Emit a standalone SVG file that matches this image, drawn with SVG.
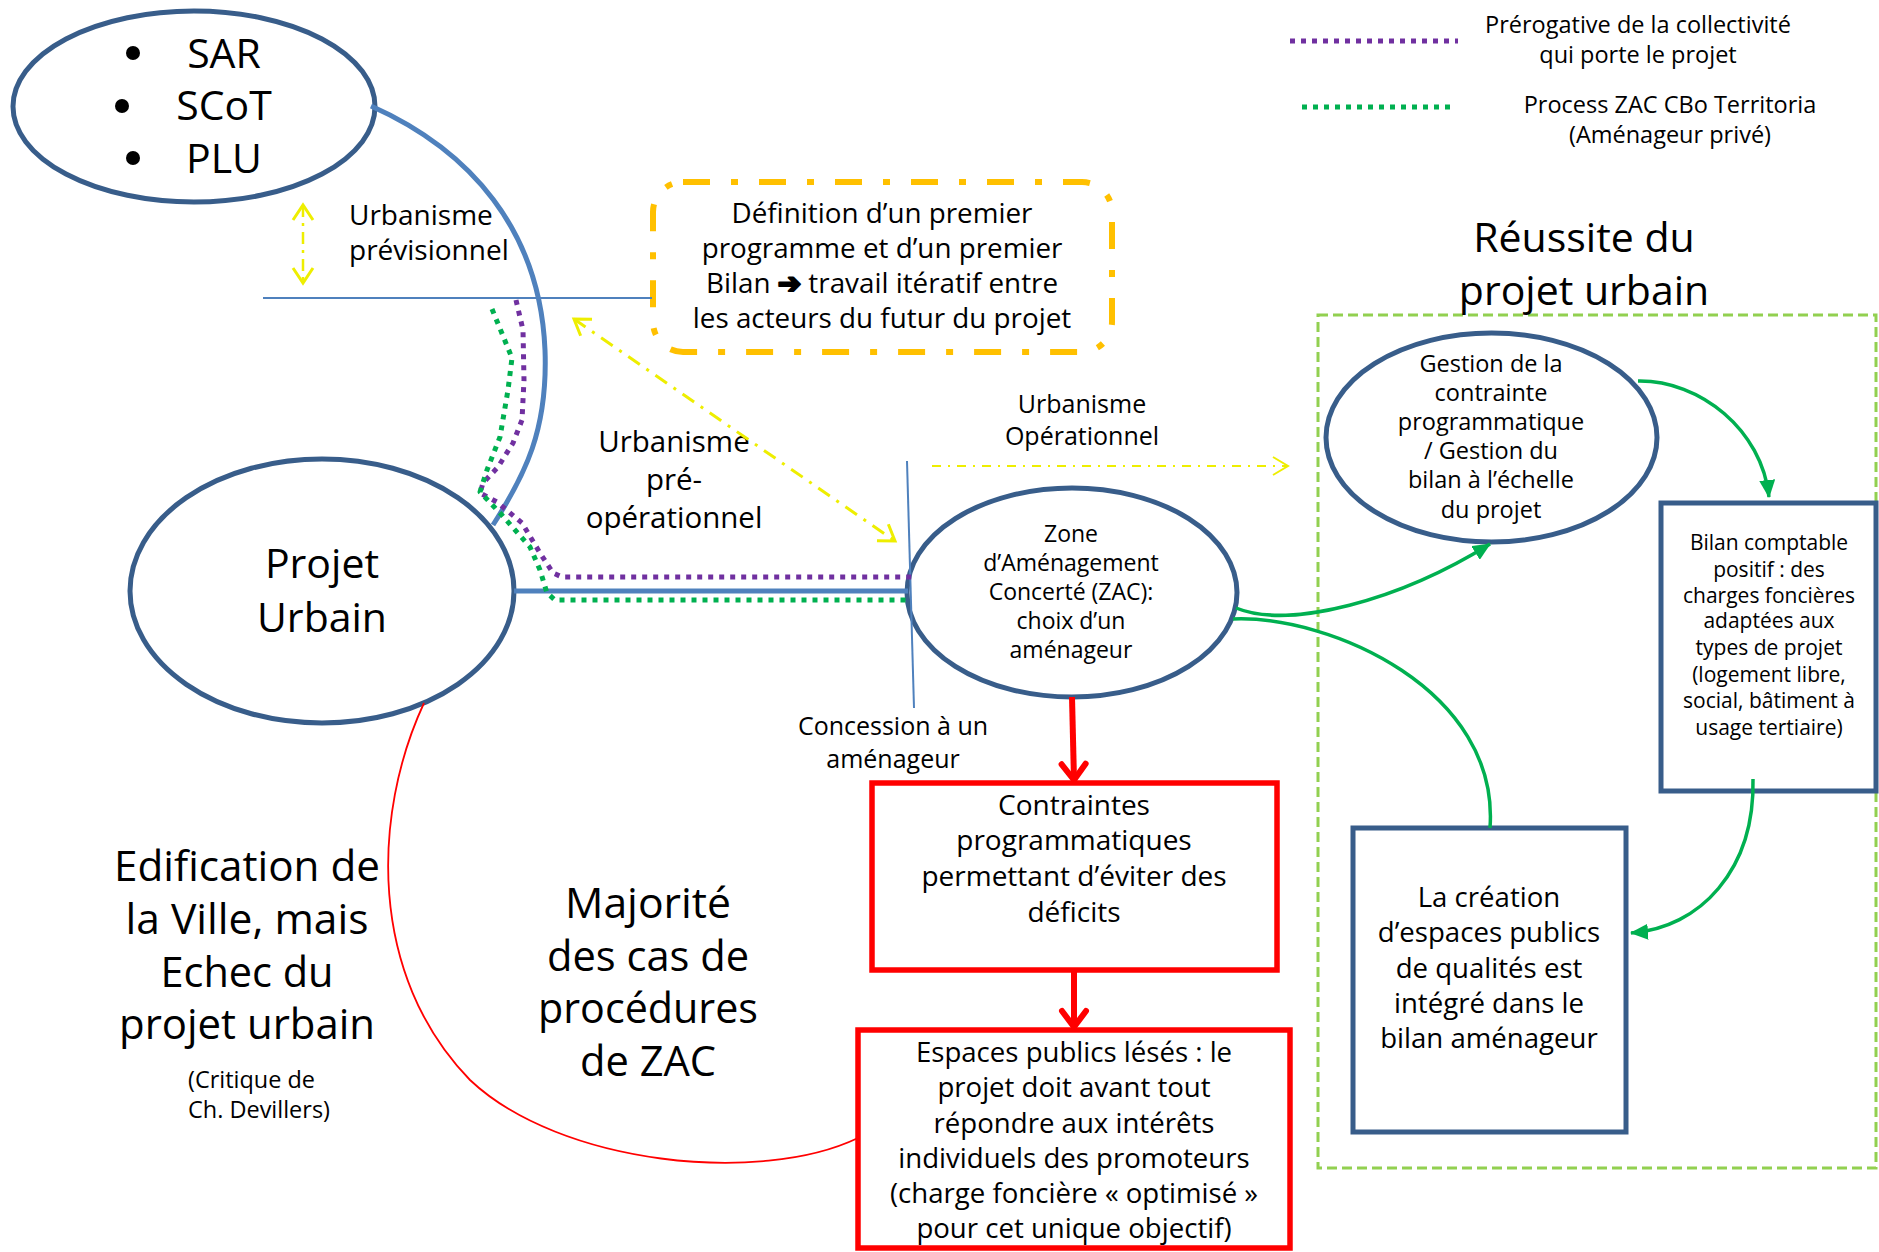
<svg xmlns="http://www.w3.org/2000/svg" width="1879" height="1252" viewBox="0 0 1879 1252">
<style>
.t{font-family:"Open Sans","Liberation Sans",sans-serif;fill:#000}
.c{text-anchor:middle}
.node{fill:#fff;stroke:#385D8A;stroke-width:5}
.redbox{fill:#fff;stroke:#FF0000;stroke-width:5.5}
.blue{fill:none;stroke:#4F81BD}
.dotP{fill:none;stroke:#7030A0;stroke-width:5;stroke-dasharray:5 6;stroke-linejoin:round}
.dotG{fill:none;stroke:#00B050;stroke-width:5;stroke-dasharray:5 6;stroke-linejoin:round}
.yel{fill:none;stroke:#EEEE00}
.gr{fill:none;stroke:#00B050;stroke-width:3.5}
.redA{fill:none;stroke:#FF0000;stroke-width:6}
.arw{font-family:"DejaVu Sans",sans-serif;font-weight:bold;stroke:#000;stroke-width:2.2;stroke-linejoin:round}
</style>
<defs>
<marker id="ah-green" markerUnits="userSpaceOnUse" viewBox="0 0 18 16" markerWidth="18" markerHeight="16" refX="17" refY="8" orient="auto"><path d="M0,0 L18,8 L0,16 z" fill="#00B050"/></marker>
<marker id="ah-red" markerUnits="userSpaceOnUse" viewBox="-4 -16 28 32" markerWidth="28" markerHeight="32" refX="18" refY="0" orient="auto"><path d="M2,-12 L18,0 L2,12" fill="none" stroke="#FF0000" stroke-width="6" stroke-linecap="round" stroke-linejoin="round"/></marker>
<marker id="ah-yel" markerUnits="userSpaceOnUse" viewBox="-2 -12 20 24" markerWidth="20" markerHeight="24" refX="15" refY="0" orient="auto-start-reverse"><path d="M0,-10 L15,0 L0,10" fill="none" stroke="#EEEE00" stroke-width="3"/></marker>
<marker id="ah-yel-s" markerUnits="userSpaceOnUse" viewBox="-2 -12 20 24" markerWidth="20" markerHeight="24" refX="15" refY="0" orient="auto-start-reverse"><path d="M0,-9 L15,0 L0,9" fill="none" stroke="#EEEE00" stroke-width="2"/></marker>
</defs>

<g id="legend">
<path d="M1290,41 H1458" class="dotP"/>
<path d="M1302,107 H1453" class="dotG"/>
<text class="t c" font-size="23.5"><tspan x="1638" y="33">Prérogative de la collectivité</tspan><tspan x="1638" y="63">qui porte le projet</tspan></text>
<text class="t c" font-size="23.5"><tspan x="1670" y="113">Process ZAC CBo Territoria</tspan><tspan x="1670" y="143">(Aménageur privé)</tspan></text>
</g>

<g id="zone-reussite">
<rect x="1318" y="315" width="558" height="853" fill="none" stroke="#92D050" stroke-width="3" stroke-dasharray="10 5"/>
<text class="t c" font-size="41"><tspan x="1584" y="252">Réussite du</tspan><tspan x="1584" y="305">projet urbain</tspan></text>
</g>

<g id="node-sar">
<ellipse cx="194" cy="106.5" rx="181" ry="95.5" class="node"/>
<circle cx="133" cy="53" r="7"/>
<circle cx="122" cy="106" r="7"/>
<circle cx="133" cy="158" r="7"/>
<text class="t c" font-size="41"><tspan x="224" y="68">SAR</tspan><tspan x="224" y="120">SCoT</tspan><tspan x="224" y="173">PLU</tspan></text>
</g>

<g id="node-projet">
<ellipse cx="322" cy="591" rx="192" ry="132" class="node"/>
<text class="t c" font-size="41"><tspan x="322" y="578">Projet</tspan><tspan x="322" y="632">Urbain</tspan></text>
</g>

<g id="node-definition">
<rect x="653" y="182" width="459" height="170" rx="30" fill="#fff" stroke="#FFC000" stroke-width="6" stroke-dasharray="27 21 7 21"/>
<text class="t c" font-size="27.8"><tspan x="882" y="223">Définition d’un premier</tspan><tspan x="882" y="258">programme et d’un premier</tspan><tspan x="882" y="293">Bilan <tspan class="arw" font-size="28">➔</tspan> travail itératif entre</tspan><tspan x="882" y="328">les acteurs du futur du projet</tspan></text>
</g>

<g id="node-zac">
<ellipse cx="1072" cy="592.5" rx="165" ry="104.5" class="node"/>
<text class="t c" font-size="23"><tspan x="1071" y="542">Zone</tspan><tspan x="1071" y="571">d’Aménagement</tspan><tspan x="1071" y="600">Concerté (ZAC):</tspan><tspan x="1071" y="629">choix d’un</tspan><tspan x="1071" y="658">aménageur</tspan></text>
</g>

<g id="node-contraintes">
<rect x="872" y="783" width="405" height="187" class="redbox"/>
<text class="t c" font-size="28"><tspan x="1074" y="815">Contraintes</tspan><tspan x="1074" y="850">programmatiques</tspan><tspan x="1074" y="886">permettant d’éviter des</tspan><tspan x="1074" y="922">déficits</tspan></text>
</g>

<g id="node-espaces">
<rect x="858" y="1030" width="432" height="218" class="redbox"/>
<text class="t c" font-size="27.6"><tspan x="1074" y="1062">Espaces publics lésés : le</tspan><tspan x="1074" y="1097">projet doit avant tout</tspan><tspan x="1074" y="1133">répondre aux intérêts</tspan><tspan x="1074" y="1168">individuels des promoteurs</tspan><tspan x="1074" y="1203">(charge foncière « optimisé »</tspan><tspan x="1074" y="1238">pour cet unique objectif)</tspan></text>
</g>

<g id="node-gestion">
<ellipse cx="1491.5" cy="437.5" rx="165.5" ry="104.5" class="node"/>
<text class="t c" font-size="23.5"><tspan x="1491" y="372">Gestion de la</tspan><tspan x="1491" y="401">contrainte</tspan><tspan x="1491" y="430">programmatique</tspan><tspan x="1491" y="459">/ Gestion du</tspan><tspan x="1491" y="488">bilan à l’échelle</tspan><tspan x="1491" y="518">du projet</tspan></text>
</g>

<g id="node-bilan">
<rect x="1661" y="503" width="215" height="288" class="node"/>
<text class="t c" font-size="21"><tspan x="1769" y="550">Bilan comptable</tspan><tspan x="1769" y="577">positif : des</tspan><tspan x="1769" y="603">charges foncières</tspan><tspan x="1769" y="628">adaptées aux</tspan><tspan x="1769" y="655">types de projet</tspan><tspan x="1769" y="682">(logement libre,</tspan><tspan x="1769" y="708">social, bâtiment à</tspan><tspan x="1769" y="735">usage tertiaire)</tspan></text>
</g>

<g id="node-creation">
<rect x="1353" y="828" width="273" height="304" class="node"/>
<text class="t c" font-size="27.6"><tspan x="1489" y="907">La création</tspan><tspan x="1489" y="942">d’espaces publics</tspan><tspan x="1489" y="978">de qualités est</tspan><tspan x="1489" y="1013">intégré dans le</tspan><tspan x="1489" y="1048">bilan aménageur</tspan></text>
</g>

<g id="labels">
<text class="t" font-size="28"><tspan x="349" y="225">Urbanisme</tspan><tspan x="349" y="260">prévisionnel</tspan></text>
<text class="t c" font-size="29.5"><tspan x="674" y="452">Urbanisme</tspan><tspan x="674" y="490">pré-</tspan><tspan x="674" y="528">opérationnel</tspan></text>
<text class="t c" font-size="25"><tspan x="1082" y="413">Urbanisme</tspan><tspan x="1082" y="445">Opérationnel</tspan></text>
<text class="t c" font-size="25"><tspan x="893" y="735">Concession à un</tspan><tspan x="893" y="768">aménageur</tspan></text>
<text class="t c" font-size="42" x="247" y="881" textLength="266" lengthAdjust="spacingAndGlyphs">Edification de</text>
<text class="t c" font-size="42" x="247" y="934" textLength="243" lengthAdjust="spacingAndGlyphs">la Ville, mais</text>
<text class="t c" font-size="42" x="247" y="987" textLength="173" lengthAdjust="spacingAndGlyphs">Echec du</text>
<text class="t c" font-size="42" x="247" y="1039" textLength="256" lengthAdjust="spacingAndGlyphs">projet urbain</text>
<text class="t" font-size="23" x="188" y="1088" textLength="127" lengthAdjust="spacingAndGlyphs">(Critique de</text>
<text class="t" font-size="23" x="188" y="1118" textLength="142" lengthAdjust="spacingAndGlyphs">Ch. Devillers)</text>
<text class="t c" font-size="42" x="648" y="918" textLength="166" lengthAdjust="spacingAndGlyphs">Majorité</text>
<text class="t c" font-size="42" x="648" y="971" textLength="202" lengthAdjust="spacingAndGlyphs">des cas de</text>
<text class="t c" font-size="42" x="648" y="1023" textLength="220" lengthAdjust="spacingAndGlyphs">procédures</text>
<text class="t c" font-size="42" x="648" y="1076" textLength="136" lengthAdjust="spacingAndGlyphs">de ZAC</text>
</g>

<g id="connectors">
<path d="M371,106 C470,150 540,230 545,350 C548,430 525,475 493,525" class="blue" stroke-width="5"/>
<path d="M263,298 H652" class="blue" stroke-width="2"/>
<path d="M514,591 H908" class="blue" stroke-width="5"/>
<path d="M907,461 L914,708" class="blue" stroke-width="2"/>
<path d="M516,300 L523,330 L524,380 L522,420 L513,443 L498,467 L483,483 L480,493 L497,502 L522,523 L540,553 L553,573 L562,577 L913,577" class="dotP"/>
<path d="M492,309 L512,358 L508,390 L500,437 L487,470 L480,492 L500,513 L530,547 L540,570 L547,593 L555,600 L908,600" class="dotG"/>
<path d="M303,205 V283" class="yel" stroke-width="2.5" stroke-dasharray="12 6 3 6" marker-start="url(#ah-yel)" marker-end="url(#ah-yel)"/>
<path d="M574,319 L895,541" class="yel" stroke-width="3" stroke-dasharray="14 8 3 8" marker-start="url(#ah-yel)" marker-end="url(#ah-yel)"/>
<path d="M932,466 H1288" class="yel" stroke-width="2" stroke-dasharray="9 7 2 7" marker-end="url(#ah-yel-s)"/>
<path d="M1072,697 L1074,780" class="redA" marker-end="url(#ah-red)"/>
<path d="M1074,970 V1027" class="redA" marker-end="url(#ah-red)"/>
<path d="M424,703 C372,815 368,975 470,1080 C560,1165 760,1185 858,1138" fill="none" stroke="#FF0000" stroke-width="1.8"/>
<path d="M1236,608 C1290,630 1400,600 1490,544" class="gr" marker-end="url(#ah-green)"/>
<path d="M1233,619 C1330,615 1500,690 1490,828" class="gr"/>
<path d="M1638,381 C1700,380 1762,430 1769,497" class="gr" marker-end="url(#ah-green)"/>
<path d="M1753,779 C1755,870 1700,928 1631,933" class="gr" marker-end="url(#ah-green)"/>
</g>
</svg>
